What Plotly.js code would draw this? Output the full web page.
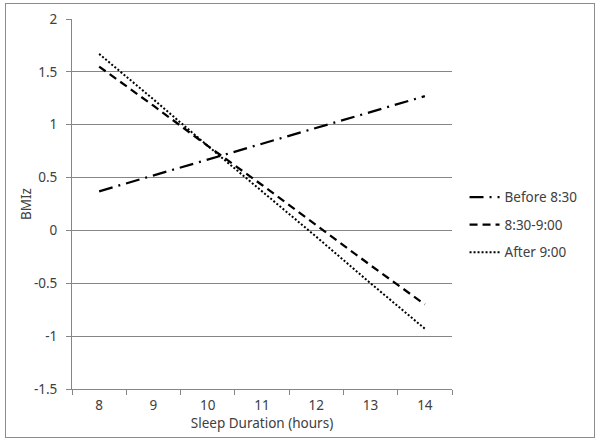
<!DOCTYPE html>
<html>
<head>
<meta charset="utf-8">
<script src="https://cdn.plot.ly/plotly-3.0.1.min.js"></script>
<style>
  html, body { margin: 0; padding: 0; background: #ffffff; }
  #frame { position: absolute; left: 5px; top: 3px; width: 588px; height: 433px; border: 1px solid #8c8c8c; }
  #chart { position: absolute; left: 0; top: 0; width: 600px; height: 444px; }
</style>
</head>
<body>
<div id="frame"></div>
<div id="chart"></div>
<script>
// Sleep duration categories (hours)
const sleepHours = ["8", "9", "10", "11", "12", "13", "14"];
// Series: BMIz by bedtime group
const before830 = [0.37, 0.52, 0.67, 0.82, 0.97, 1.12, 1.27];
const between830and900 = [1.55, 1.18, 0.80, 0.43, 0.05, -0.33, -0.70];
const after900 = [1.67, 1.24, 0.80, 0.37, -0.06, -0.50, -0.93];
const seriesNames = ["Before 8:30", "8:30-9:00", "After 9:00"];
// Y tick labels
const yTickVals = [-1.5, -1, -0.5, 0, 0.5, 1, 1.5, 2];
const yTickText = ["-1.5", "-1", "-0.5", "0", "0.5", "1", "1.5", "2"];

const font = { family: "Noto Sans, Open Sans, sans-serif", size: 13.5, color: "#404040" };

const traces = [
  { x: sleepHours, y: before830, name: seriesNames[0], type: "scatter", mode: "lines",
    line: { color: "#000000", width: 2.25, dash: "14px,6px,2px,6px" }, legendgroup: "a" },
  { x: sleepHours, y: between830and900, name: seriesNames[1], type: "scatter", mode: "lines",
    line: { color: "#000000", width: 2.25, dash: "8px,5px" }, legendgroup: "b" },
  { x: sleepHours, y: after900, name: seriesNames[2], type: "scatter", mode: "lines",
    line: { color: "#000000", width: 2, dash: "2px,2px" }, legendgroup: "c" }
];

const layout = {
  width: 600, height: 444,
  margin: { l: 72, r: 148, t: 19, b: 55 },
  paper_bgcolor: "rgba(0,0,0,0)",
  plot_bgcolor: "rgba(0,0,0,0)",
  font: font,
  showlegend: true,
  legend: { x: 1.033, xanchor: "left", y: 0.56, yanchor: "top", font: font,
            traceorder: "grouped", tracegroupgap: 7, bgcolor: "rgba(0,0,0,0)" },
  xaxis: {
    type: "category",
    range: [-0.5, 6.5],
    tickson: "boundaries",
    ticks: "outside", ticklen: 5, tickcolor: "#868686",
    ticklabelstandoff: 4,
    showline: true, linecolor: "#868686", linewidth: 1,
    showgrid: false, zeroline: false,
    tickfont: font,
    title: { text: "Sleep Duration (hours)", font: font, standoff: 4 }
  },
  yaxis: {
    range: [-1.5, 2],
    tickvals: yTickVals, ticktext: yTickText,
    ticks: "outside", ticklen: 5, tickcolor: "#868686",
    ticklabelstandoff: 6,
    showline: true, linecolor: "#868686", linewidth: 1,
    showgrid: true, gridcolor: "#868686", gridwidth: 1,
    zeroline: false,
    tickfont: font
  },
  annotations: [
    { text: "BMIz", xref: "paper", yref: "paper", x: -46 / 380, y: 0.5,
      xanchor: "center", yanchor: "middle", textangle: -90, showarrow: false, font: font }
  ]
};

Plotly.newPlot("chart", traces, layout, { displayModeBar: false, staticPlot: true });
</script>
</body>
</html>
